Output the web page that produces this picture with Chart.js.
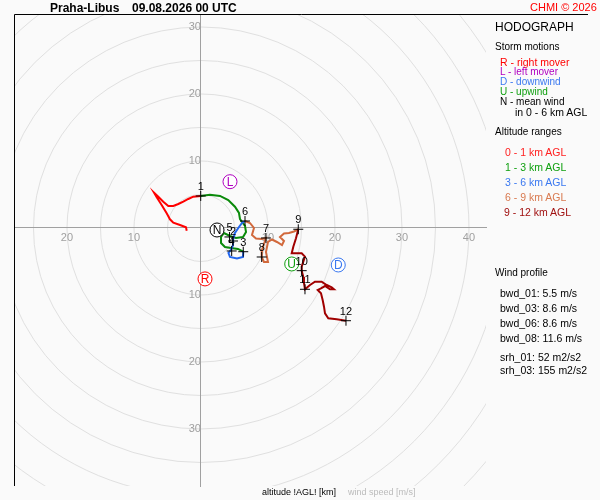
<!DOCTYPE html>
<html><head><meta charset="utf-8">
<script src="https://cdn.jsdelivr.net/npm/chart.js@4/dist/chart.umd.min.js"></script>
<style>
html,body{margin:0;padding:0;background:#fafafa;}
#wrap{position:relative;width:600px;height:500px;overflow:hidden;font-family:"Liberation Sans",Arial,sans-serif;}
#c{position:absolute;left:0;top:0;}
.t{position:absolute;white-space:pre;line-height:1;transform:translateY(-50%);font-size:11px;color:#000;}
</style>
</head><body>
<div id="wrap">
<canvas id="c" width="600" height="500"></canvas>
<div class="t" style="left:50px;top:8px;font-weight:bold;font-size:12px;">Praha-Libus</div>
<div class="t" style="left:132px;top:8px;font-weight:bold;font-size:12px;">09.08.2026 00 UTC</div>
<div class="t" style="left:530px;top:7px;color:#ff0000;font-size:11px;">CHMI © 2026</div>
<div class="t" style="left:495px;top:27px;font-size:12px;">HODOGRAPH</div>
<div class="t" style="left:495px;top:47px;font-size:10px;">Storm motions</div>
<div class="t" style="left:500px;top:62px;font-size:10.5px;color:#ff0000;">R - right mover</div>
<div class="t" style="left:500px;top:72px;font-size:10px;color:#b000c0;">L - left mover</div>
<div class="t" style="left:500px;top:82px;font-size:10px;color:#3a78f0;">D - downwind</div>
<div class="t" style="left:500px;top:92px;font-size:10px;color:#10a010;">U - upwind</div>
<div class="t" style="left:500px;top:102px;font-size:10px;">N - mean wind</div>
<div class="t" style="left:515px;top:112px;font-size:10.5px;">in 0 - 6 km AGL</div>
<div class="t" style="left:495px;top:132px;font-size:10px;">Altitude ranges</div>
<div class="t" style="left:505px;top:152px;font-size:10.5px;color:#ff2020;">0 - 1 km AGL</div>
<div class="t" style="left:505px;top:167px;font-size:10.5px;color:#10a010;">1 - 3 km AGL</div>
<div class="t" style="left:505px;top:182px;font-size:10.5px;color:#3a78f0;">3 - 6 km AGL</div>
<div class="t" style="left:505px;top:197px;font-size:10.5px;color:#d97a50;">6 - 9 km AGL</div>
<div class="t" style="left:504px;top:212px;font-size:10.5px;color:#a01010;">9 - 12 km AGL</div>
<div class="t" style="left:495px;top:273px;font-size:10px;">Wind profile</div>
<div class="t" style="left:500px;top:293px;font-size:10.5px;">bwd_01: 5.5 m/s</div>
<div class="t" style="left:500px;top:308px;font-size:10.5px;">bwd_03: 8.6 m/s</div>
<div class="t" style="left:500px;top:323px;font-size:10.5px;">bwd_06: 8.6 m/s</div>
<div class="t" style="left:500px;top:338px;font-size:10.5px;">bwd_08: 11.6 m/s</div>
<div class="t" style="left:500px;top:357px;font-size:10.5px;">srh_01: 52 m2/s2</div>
<div class="t" style="left:500px;top:370px;font-size:10.5px;">srh_03: 155 m2/s2</div>
<div class="t" style="left:262px;top:492px;font-size:9px;">altitude !AGL! [km]</div>
<div class="t" style="left:348px;top:492px;font-size:9px;color:#bbbbbb;">wind speed [m/s]</div>
</div>
<script>
// Hodograph wind components (u = east, v = north) in m/s
const seg01U = [-2.13,-2.24,-3.13,-4.13,-4.63,-5.12,-5.87,-6.61,-7.01,-6.37,-5.63,-4.88,-4.13,-3.39,-2.64,-1.90,-1.15,-0.04];
const seg01V = [-0.40,0.10,0.45,0.79,1.30,2.19,3.43,4.58,5.27,4.67,3.93,3.28,3.28,3.58,3.93,4.33,4.67,4.78];
const seg13U = [-0.04,1.34,2.84,4.07,5.07,5.67,5.82,6.57,6.72,6.27,5.22,4.33,3.43,2.99,2.99,3.58,4.48,5.52,6.31];
const seg13V = [4.78,4.97,4.78,4.18,3.18,2.24,1.34,0.30,-0.60,-1.34,-1.49,-1.19,-0.75,-1.34,-2.24,-2.84,-2.99,-3.13,-3.54];
const seg36U = [6.31,6.27,5.37,4.33,4.10,4.48,4.78,4.78,5.07,5.67,6.12,6.57];
const seg36V = [-3.54,-4.33,-4.55,-4.33,-3.73,-3.28,-2.54,-1.79,-0.75,0.15,0.75,1.04];
const seg69U = [6.57,7.31,7.91,7.61,8.21,9.10,9.70,9.40,9.10,9.06,9.40,10.00,9.70,10.00,10.60,11.34,12.09,12.39,11.79,12.39,13.13,13.88,14.52];
const seg69V = [1.04,0.75,0.00,-1.04,-1.57,-1.64,-1.49,-2.39,-3.28,-4.33,-5.07,-5.07,-3.58,-2.09,-1.72,-2.09,-2.54,-1.94,-1.34,-0.82,-0.75,-0.52,-0.19];
const seg912U = [14.52,14.18,13.78,13.54,14.28,15.03,15.52,15.27,15.03,15.03,15.27,15.37,15.52,16.27,17.01,18.01,18.76,19.51,19.85,19.25,18.51,17.91,17.42,17.91,18.16,18.36,18.51,19.00,20.25,21.64];
const seg912V = [-0.19,-1.54,-2.79,-3.78,-3.78,-3.78,-4.28,-5.03,-5.78,-6.37,-7.31,-8.21,-9.15,-8.51,-8.01,-8.01,-8.51,-8.85,-9.15,-9.15,-8.66,-9.00,-9.25,-9.75,-10.75,-11.75,-12.73,-13.48,-13.63,-13.84];

// Altitude marks (km AGL)
const levelLabels = ['1','2','3','4','5','6','7','8','9','10','11','12'];
const levelU = [-0.04,4.78,6.31,4.58,4.25,6.57,9.70,9.06,14.52,15.03,15.52,21.64];
const levelV = [4.78,-1.94,-3.54,-3.43,-1.34,1.04,-1.49,-4.33,-0.19,-6.37,-9.15,-13.84];

// Storm motions
const stormLetters = ['R','L','D','U','N'];
const stormU = [0.60,4.33,20.49,13.54,2.39];
const stormV = [-7.60,6.91,-5.52,-5.37,-0.30];

// Axes
const ringRadii = [5,10,15,20,25,30,35,40,45,50,55,60,65];
const tickStep = 10;

const stormColors = ['#ff0000','#b000c0','#3a78f0','#10a010','#000000'];
const toPts = (us, vs) => us.map((u, i) => ({x: u, y: vs[i]}));
const tickText = v => (v === 0 || Math.abs(v % tickStep) > 1e-6) ? '' : String(Math.abs(v));

const ringsPlugin = {
  id: 'rings',
  beforeDraw(chart) {
    const {ctx, chartArea: a, scales: {x, y}} = chart;
    ctx.save();
    ctx.fillStyle = '#fafafa';
    ctx.fillRect(0, 0, chart.width, chart.height);
    ctx.beginPath();
    ctx.rect(a.left, a.top, a.right - a.left, a.bottom - a.top);
    ctx.clip();
    const cx = x.getPixelForValue(0), cy = y.getPixelForValue(0);
    const k = x.getPixelForValue(1) - cx;
    ctx.strokeStyle = '#e0e0e0';
    ctx.lineWidth = 1;
    ringRadii.forEach(r => {
      ctx.beginPath();
      ctx.arc(cx, cy, r * k, 0, Math.PI * 2);
      ctx.stroke();
    });
    ctx.restore();
  },
  afterDraw(chart) {
    const {ctx, chartArea: a} = chart;
    ctx.save();
    ctx.strokeStyle = '#000';
    ctx.lineWidth = 1;
    ctx.beginPath();
    ctx.moveTo(Math.round(a.left) - 0.5, Math.round(a.bottom));
    ctx.lineTo(Math.round(a.left) - 0.5, Math.round(a.top) - 0.5);
    ctx.lineTo(588, Math.round(a.top) - 0.5);
    ctx.stroke();
    ctx.restore();
  },
  afterDatasetsDraw(chart) {
    const {ctx} = chart;
    ctx.save();
    ctx.font = '11px "Liberation Sans", Arial, sans-serif';
    ctx.textAlign = 'center';
    ctx.textBaseline = 'middle';
    const lm = chart.getDatasetMeta(0);
    lm.data.forEach((p, i) => {
      ctx.fillStyle = '#000';
      ctx.fillText(levelLabels[i], p.x, p.y - 9);
    });
    const sm = chart.getDatasetMeta(1);
    ctx.font = '12px "Liberation Sans", Arial, sans-serif';
    sm.data.forEach((p, i) => {
      ctx.fillStyle = stormColors[i];
      ctx.fillText(stormLetters[i], p.x, p.y + 0.5);
    });
    ctx.restore();
  }
};

const lineDs = (label, us, vs, color, order) => ({
  label, data: toPts(us, vs), showLine: true, borderColor: color, backgroundColor: color,
  borderWidth: 2, pointRadius: 0, tension: 0, order
});

new Chart(document.getElementById('c'), {
  type: 'scatter',
  data: {
    datasets: [
      {label: 'levels', data: toPts(levelU, levelV), pointStyle: 'cross', pointRadius: 5,
       borderColor: '#000', borderWidth: 1, order: 0},
      {label: 'storms', data: toPts(stormU, stormV), pointStyle: 'circle', pointRadius: 7,
       backgroundColor: '#ffffff', borderColor: stormColors, borderWidth: 1, order: 1},
      lineDs('0-1 km', seg01U, seg01V, '#ff0000', 6),
      lineDs('1-3 km', seg13U, seg13V, '#0a8a0a', 5),
      lineDs('3-6 km', seg36U, seg36V, '#2266ee', 4),
      lineDs('6-9 km', seg69U, seg69V, '#d2693c', 3),
      lineDs('9-12 km', seg912U, seg912V, '#a00000', 2)
    ]
  },
  options: {
    responsive: false,
    animation: false,
    devicePixelRatio: 1,
    layout: {padding: {left: 15, top: 15, right: 114, bottom: 14}},
    plugins: {legend: {display: false}, tooltip: {enabled: false}},
    scales: {
      x: {
        type: 'linear', min: -27.76, max: 42.54, position: {y: 0},
        grid: {display: false, drawTicks: false},
        border: {display: true, color: '#a0a0a0', width: 1},
        ticks: {stepSize: tickStep, includeBounds: false, autoSkip: false, maxRotation: 0, padding: 3, color: '#a0a0a0',
                font: {size: 11, family: '"Liberation Sans", Arial, sans-serif'},
                callback: tickText},
        afterFit: s => { s.height = 0; }
      },
      y: {
        type: 'linear', min: -38.51, max: 31.79, position: {x: 0},
        grid: {display: false, drawTicks: false},
        border: {display: true, color: '#a0a0a0', width: 1},
        ticks: {stepSize: tickStep, includeBounds: false, autoSkip: false, padding: 2, color: '#a0a0a0',
                font: {size: 11, family: '"Liberation Sans", Arial, sans-serif'},
                callback: tickText},
        afterFit: s => { s.width = 0; }
      }
    }
  },
  plugins: [ringsPlugin]
});
</script>
</body></html>
